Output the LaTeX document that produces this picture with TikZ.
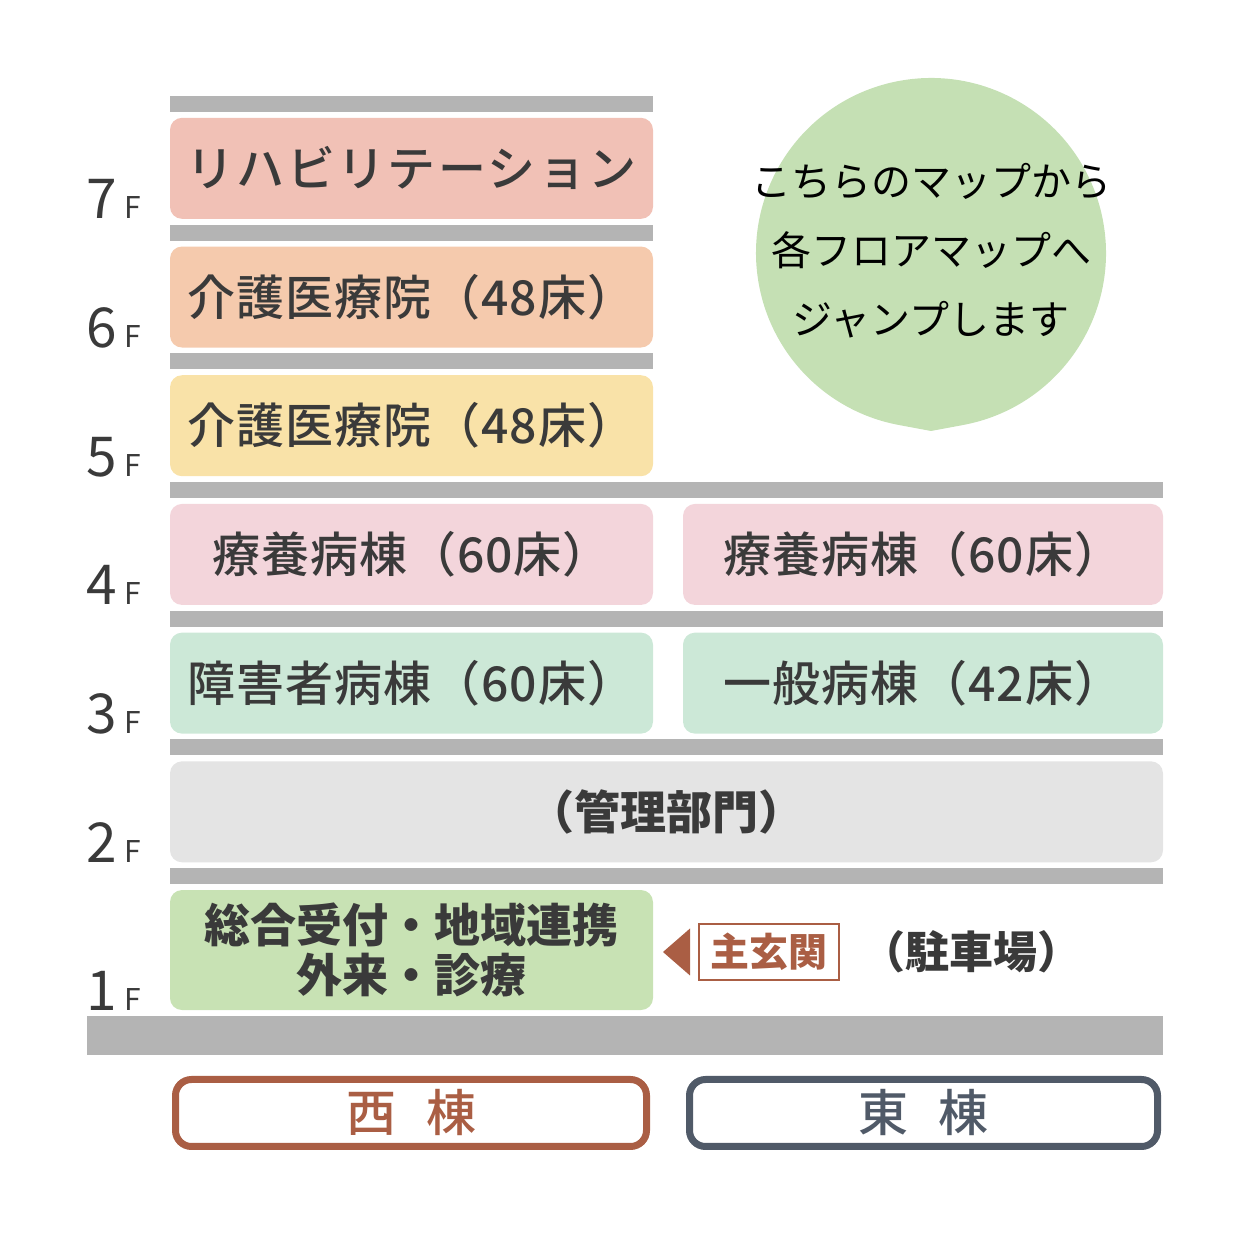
\documentclass[tikz,border=0pt]{standalone}
\usepackage{fontspec}
\setmainfont{Noto Sans CJK JP}
\newfontfamily\jpmed{Noto Sans CJK JP}[UprightFont=* Medium, BoldFont=* Bold]
\usetikzlibrary{positioning}
\definecolor{slabgray}{RGB}{180,180,180}
\definecolor{ink}{RGB}{58,58,58}
\definecolor{rehabpink}{RGB}{241,193,182}
\definecolor{carepeach}{RGB}{245,202,173}
\definecolor{careyellow}{RGB}{249,226,168}
\definecolor{longpink}{RGB}{243,213,219}
\definecolor{wardmint}{RGB}{204,232,215}
\definecolor{admingray}{RGB}{228,228,228}
\definecolor{lobbygreen}{RGB}{200,226,180}
\definecolor{dropgreen}{RGB}{197,224,180}
\definecolor{westbrown}{RGB}{170,94,68}
\definecolor{eastslate}{RGB}{80,90,104}
\newcommand{\flrtag}[1]{{\fontsize{55}{55}\selectfont #1}\kern8pt{\fontsize{30}{30}\selectfont F}}

\begin{document}
\begin{tikzpicture}[x=1pt, y=1pt,
  slab/.style={fill=slabgray, inner sep=0pt, outer sep=0pt, minimum height=16pt},
  room/.style={rounded corners=12pt, inner sep=0pt, outer sep=0pt, minimum height=101pt,
               text=ink, font=\fontsize{48}{56}\selectfont\jpmed\addfontfeatures{LetterSpace=2}},
  westw/.style={minimum width=483pt},
  eastw/.style={minimum width=480pt},
  fullw/.style={minimum width=993pt},
  flr/.style={anchor=base west, inner sep=0pt, text=ink},
  wing/.style={draw, line width=7pt, rounded corners=16pt, fill=white,
               minimum width=471pt, minimum height=67pt, font=\fontsize{50}{50}\selectfont\jpmed},
  node distance=5.85pt,
]
\useasboundingbox (0,0) rectangle (1248,1248);

% West wing: upper floors
\node[slab, westw, anchor=north west] (s8) at (170,1152) {};
\node[room, westw, fill=rehabpink, below=of s8] (r7)
  {\addfontfeatures{LetterSpace=5}リハビリテーション};
\node[slab, westw, below=of r7] (s7) {};
\node[room, westw, fill=carepeach, below=of s7] (r6) {介護医療院（48床）};
\node[slab, westw, below=of r6] (s6) {};
\node[room, westw, fill=careyellow, below=of s6] (r5) {介護医療院（48床）};

% Both wings
\node[slab, fullw, below right=5.85pt and 0pt of r5.south west] (s5) {};
\node[room, westw, fill=longpink, below right=5.85pt and 0pt of s5.south west] (r4w) {療養病棟（60床）};
\node[room, eastw, fill=longpink, below left=5.85pt and 0pt of s5.south east] (r4e) {療養病棟（60床）};
\node[slab, fullw, below right=5.85pt and 0pt of r4w.south west] (s4) {};
\node[room, westw, fill=wardmint, below right=5.85pt and 0pt of s4.south west] (r3w) {障害者病棟（60床）};
\node[room, eastw, fill=wardmint, below left=5.85pt and 0pt of s4.south east] (r3e) {一般病棟（42床）};
\node[slab, fullw, below right=5.85pt and 0pt of r3w.south west] (s3) {};
\node[room, fullw, fill=admingray, font=\fontsize{46}{56}\selectfont\bfseries,
      below right=5.85pt and 0pt of s3.south west] (r2) {（管理部門）};
\node[slab, fullw, below right=5.85pt and 0pt of r2.south west] (s2) {};
\node[room, westw, fill=lobbygreen, minimum height=120pt, align=center,
      font=\fontsize{46}{50}\selectfont\bfseries,
      below right=5.85pt and 0pt of s2.south west] (r1) {総合受付・地域連携\\外来・診療};
\node[slab, minimum width=1076pt, minimum height=39pt, anchor=north east, yshift=-6pt]
  (base) at (s2.east |- r1.south) {};

% Floor numbers
\node[flr] (f7) at (86,0 |- r7.south) {\flrtag{7}};
\node[flr] (f6) at (86,0 |- r6.south) {\flrtag{6}};
\node[flr] (f5) at (86,0 |- r5.south) {\flrtag{5}};
\node[flr] (f4) at (86,0 |- r4w.south) {\flrtag{4}};
\node[flr] (f3) at (86,0 |- r3w.south) {\flrtag{3}};
\node[flr] (f2) at (86,0 |- r2.south) {\flrtag{2}};
\node[flr] (f1) at (86,0 |- r1.south) {\flrtag{1}};

% Drop with jump text
\fill[dropgreen] (931,995) ++(-79.5:175pt) arc[start angle=-79.5, end angle=259.5, radius=175pt]
  -- (931,817) -- cycle;
\node[font=\fontsize{40}{69}\selectfont, align=center] (jump) at (931,997)
  {こちらのマップから\\各フロアマップへ\\ジャンプします};

% Entrance and parking
\node[draw=westbrown, line width=2pt, text=westbrown, minimum width=140pt, minimum height=56pt,
      inner sep=0pt, font=\fontsize{39}{39}\selectfont\bfseries] (gate) at (769,296) {主玄関};
\fill[westbrown] ([xshift=-8pt]gate.west) ++(0,23.5) -- ++(-27,-23.5) -- ++(27,-23.5) -- cycle;
\node[inner sep=0pt, text=ink, font=\fontsize{44}{44}\selectfont\bfseries, right=21pt of gate] (park) {（駐車場）};

% Wing names
\node[wing, draw=westbrown, text=westbrown] (west) at (411,135) {西\kern30pt棟};
\node[wing, draw=eastslate, text=eastslate, minimum width=468pt] (east) at (923.5,135) {東\kern30pt棟};
\end{tikzpicture}
\end{document}
